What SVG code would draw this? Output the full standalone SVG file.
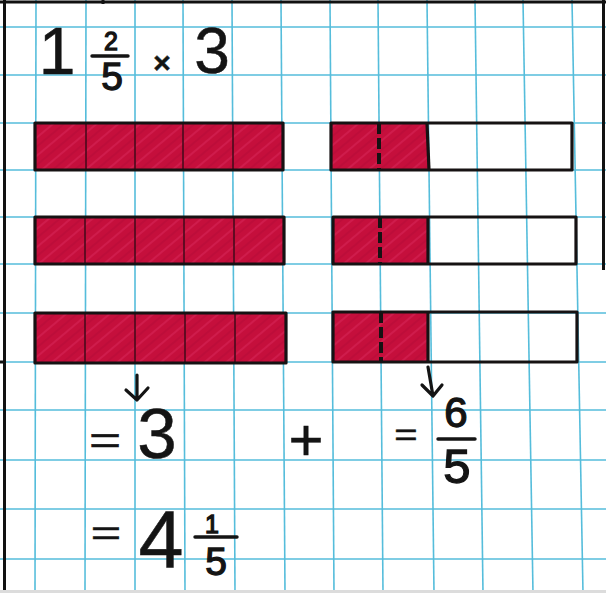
<svg xmlns="http://www.w3.org/2000/svg" width="606" height="593" viewBox="0 0 606 593">
<style>
.grid line{stroke:#55bddb;stroke-width:1.6}
.frame{stroke:#111;stroke-width:3;fill:none}
.red{fill:url(#hatch)}
.out{fill:none;stroke:#161213;stroke-width:3.2;stroke-linejoin:round}
.div{stroke:#4a0a1c;stroke-width:1.6}
.dash{stroke:#161213;stroke-width:4;stroke-dasharray:11 4}
.t{font-family:"Liberation Sans",Arial,sans-serif;fill:#141414;stroke:#141414;stroke-width:0.5;text-anchor:middle}
.s{stroke-width:1.3}
.fb{stroke:#141414;stroke-width:3.4;stroke-linecap:round}
.arr{fill:none;stroke:#141414;stroke-width:3.2;stroke-linecap:round;stroke-linejoin:round}
</style>
<defs>
<pattern id="hatch" width="14" height="14" patternUnits="userSpaceOnUse" patternTransform="rotate(-40)">
<rect width="14" height="14" fill="#c50f3c"/>
<line x1="0" y1="3" x2="14" y2="3" stroke="#e2336a" stroke-width="2" opacity="0.35"/>
<line x1="0" y1="10" x2="14" y2="10" stroke="#b00a35" stroke-width="2" opacity="0.4"/>
</pattern>
</defs>
<rect width="606" height="593" fill="#fff"/>
<g class="grid">
<line x1="0" y1="27" x2="606" y2="27"/>
<line x1="0" y1="75" x2="606" y2="75"/>
<line x1="0" y1="123" x2="606" y2="123"/>
<line x1="0" y1="170" x2="606" y2="170"/>
<line x1="0" y1="217" x2="606" y2="217"/>
<line x1="0" y1="264" x2="606" y2="264"/>
<line x1="0" y1="313" x2="606" y2="313"/>
<line x1="0" y1="362" x2="606" y2="362"/>
<line x1="0" y1="410" x2="606" y2="410"/>
<line x1="0" y1="460" x2="606" y2="460"/>
<line x1="0" y1="509" x2="606" y2="509"/>
<line x1="0" y1="559" x2="606" y2="559"/>
<line x1="36" y1="0" x2="35" y2="593"/>
<line x1="86" y1="0" x2="85" y2="593"/>
<line x1="135" y1="0" x2="135" y2="593"/>
<line x1="183" y1="0" x2="185" y2="593"/>
<line x1="232" y1="0" x2="235" y2="593"/>
<line x1="281" y1="0" x2="285" y2="593"/>
<line x1="330" y1="0" x2="334" y2="593"/>
<line x1="378" y1="0" x2="383" y2="593"/>
<line x1="427" y1="0" x2="434" y2="593"/>
<line x1="475" y1="0" x2="483" y2="593"/>
<line x1="523" y1="0" x2="533" y2="593"/>
<line x1="572" y1="0" x2="583" y2="593"/>
</g>
<g id="frame">
<line class="frame" x1="4.5" y1="0" x2="4.5" y2="593"/>
<line class="frame" x1="0" y1="2" x2="606" y2="2"/>
<line class="frame" x1="603.5" y1="0" x2="603.5" y2="270"/>
<line class="frame" x1="0" y1="362" x2="5" y2="362"/>
<line class="frame" x1="103" y1="0" x2="103" y2="4"/>
<rect x="0" y="590" width="606" height="3" fill="#dcdcdc"/>
</g>
<g id="title">
<text class="t" x="57" y="74" font-size="66">1</text>
<text class="t s" x="111" y="50" font-size="25">2</text>
<line class="fb" x1="92" y1="56" x2="128" y2="56"/>
<text class="t s" x="112" y="90" font-size="39">5</text>
<text class="t" x="162" y="73" font-size="30" font-weight="bold">×</text>
<text class="t" x="212" y="73" font-size="64">3</text>
</g>
<g id="bar-left-1">
<rect class="red" x="35" y="123" width="248" height="47"/>
<line class="div" x1="86" y1="123" x2="86" y2="170"/>
<line class="div" x1="135" y1="123" x2="135" y2="170"/>
<line class="div" x1="183" y1="123" x2="183" y2="170"/>
<line class="div" x1="233" y1="123" x2="233" y2="170"/>
<rect class="out" x="35" y="123" width="248" height="47"/>
</g>
<g id="bar-left-2">
<rect class="red" x="35" y="217" width="249" height="47"/>
<line class="div" x1="85" y1="217" x2="85" y2="264"/>
<line class="div" x1="135" y1="217" x2="135" y2="264"/>
<line class="div" x1="184" y1="217" x2="184" y2="264"/>
<line class="div" x1="234" y1="217" x2="234" y2="264"/>
<rect class="out" x="35" y="217" width="249" height="47"/>
</g>
<g id="bar-left-3">
<rect class="red" x="35" y="313" width="251" height="50"/>
<line class="div" x1="85" y1="313" x2="85" y2="363"/>
<line class="div" x1="135" y1="313" x2="135" y2="363"/>
<line class="div" x1="185" y1="313" x2="185" y2="363"/>
<line class="div" x1="235" y1="313" x2="235" y2="363"/>
<rect class="out" x="35" y="313" width="251" height="50"/>
</g>
<g id="bar-right-1">
<rect class="red" x="331" y="123" width="97" height="47"/>
<line class="dash" x1="379" y1="123" x2="379" y2="170"/>
<line class="out" x1="427" y1="123" x2="429" y2="170"/>
<rect class="out" x="331" y="123" width="241" height="47"/>
</g>
<g id="bar-right-2">
<rect class="red" x="333" y="217" width="95" height="47"/>
<line class="dash" x1="380" y1="217" x2="380" y2="264"/>
<line class="out" x1="428" y1="217" x2="428" y2="264"/>
<rect class="out" x="333" y="217" width="243" height="47"/>
</g>
<g id="bar-right-3">
<rect class="red" x="333" y="312" width="95" height="50"/>
<line class="dash" x1="381" y1="312" x2="381" y2="362"/>
<line class="out" x1="428" y1="312" x2="428" y2="362"/>
<rect class="out" x="333" y="312" width="244" height="50"/>
</g>
<g id="connectors">
<path class="arr" d="M137 375 L137 400 M126 390 L137 400 L148 388"/>
<path class="arr" d="M428 367 L433 396 M422 385 L433 396 L442 385"/>
</g>
<g id="result-whole">
<text class="t" x="105" y="454" font-size="38" transform="translate(105 0) scale(1.45 1) translate(-105 0)">=</text>
<text class="t" x="157" y="458" font-size="71">3</text>
</g>
<g id="plus">
<text class="t" x="306" y="460" font-size="60">+</text>
</g>
<g id="result-fraction">
<text class="t" x="406" y="445" font-size="32" transform="translate(406 0) scale(1.25 1) translate(-406 0)">=</text>
<text class="t s" x="456" y="427" font-size="42">6</text>
<line class="fb" x1="438" y1="439" x2="475" y2="439"/>
<text class="t s" x="457" y="483" font-size="49">5</text>
</g>
<g id="result-total">
<text class="t" x="106" y="545" font-size="36" transform="translate(106 0) scale(1.45 1) translate(-106 0)">=</text>
<text class="t" x="161" y="568" font-size="81">4</text>
<text class="t s" x="212" y="533" font-size="25">1</text>
<line class="fb" x1="195" y1="537" x2="237" y2="537"/>
<text class="t s" x="216" y="575" font-size="39">5</text>
</g>
</svg>
